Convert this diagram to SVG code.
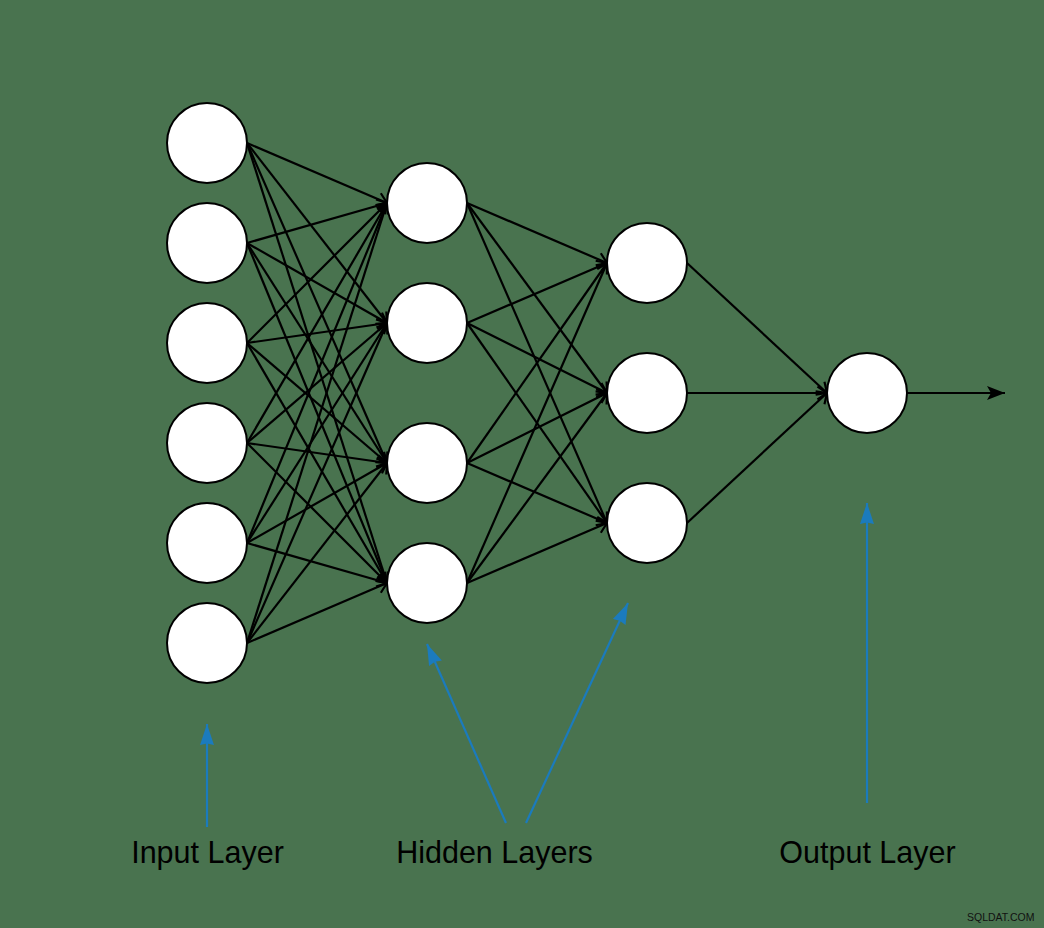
<svg xmlns="http://www.w3.org/2000/svg" width="1044" height="928" viewBox="0 0 1044 928">
<style>
.node{fill:#fff;stroke:#000;stroke-width:2}
.edge{stroke:#000;stroke-width:2.2;fill:none;marker-end:url(#open)}
.out{stroke:#000;stroke-width:2.2;fill:none;marker-end:url(#classic)}
.pointer{stroke:#1b7bbd;stroke-width:2.2;fill:none;marker-end:url(#blue)}
.label{font-family:"Liberation Sans",Arial,sans-serif;font-size:30.5px;fill:#000;text-anchor:middle}
.wm{font-family:"Liberation Sans",Arial,sans-serif;font-size:10.5px;fill:#111}
</style>
<defs>
<marker id="open" markerUnits="userSpaceOnUse" markerWidth="14" markerHeight="16" refX="11" refY="8" orient="auto">
<path d="M1.5,1.5 L11,8 L1.5,14.5" fill="none" stroke="#000" stroke-width="2.2"/>
</marker>
<marker id="classic" markerUnits="userSpaceOnUse" markerWidth="19" markerHeight="15" refX="18" refY="7.5" orient="auto">
<path d="M0,0.5 L18,7.5 L0,14.5 L4,7.5 Z" fill="#000"/>
</marker>
<marker id="blue" markerUnits="userSpaceOnUse" markerWidth="22" markerHeight="16" refX="21" refY="8" orient="auto">
<path d="M0,1 L21,8 L0,15 L1.5,8 Z" fill="#1b7bbd"/>
</marker>
</defs>
<rect width="1044" height="928" fill="#49734f"/>
<g id="connectors">
<line class="edge" x1="247" y1="143" x2="387" y2="203"/>
<line class="edge" x1="247" y1="143" x2="387" y2="323"/>
<line class="edge" x1="247" y1="143" x2="387" y2="463"/>
<line class="edge" x1="247" y1="143" x2="387" y2="583"/>
<line class="edge" x1="247" y1="243" x2="387" y2="203"/>
<line class="edge" x1="247" y1="243" x2="387" y2="323"/>
<line class="edge" x1="247" y1="243" x2="387" y2="463"/>
<line class="edge" x1="247" y1="243" x2="387" y2="583"/>
<line class="edge" x1="247" y1="343" x2="387" y2="203"/>
<line class="edge" x1="247" y1="343" x2="387" y2="323"/>
<line class="edge" x1="247" y1="343" x2="387" y2="463"/>
<line class="edge" x1="247" y1="343" x2="387" y2="583"/>
<line class="edge" x1="247" y1="443" x2="387" y2="203"/>
<line class="edge" x1="247" y1="443" x2="387" y2="323"/>
<line class="edge" x1="247" y1="443" x2="387" y2="463"/>
<line class="edge" x1="247" y1="443" x2="387" y2="583"/>
<line class="edge" x1="247" y1="543" x2="387" y2="203"/>
<line class="edge" x1="247" y1="543" x2="387" y2="323"/>
<line class="edge" x1="247" y1="543" x2="387" y2="463"/>
<line class="edge" x1="247" y1="543" x2="387" y2="583"/>
<line class="edge" x1="247" y1="643" x2="387" y2="203"/>
<line class="edge" x1="247" y1="643" x2="387" y2="323"/>
<line class="edge" x1="247" y1="643" x2="387" y2="463"/>
<line class="edge" x1="247" y1="643" x2="387" y2="583"/>
<line class="edge" x1="467" y1="203" x2="607" y2="263"/>
<line class="edge" x1="467" y1="203" x2="607" y2="393"/>
<line class="edge" x1="467" y1="203" x2="607" y2="523"/>
<line class="edge" x1="467" y1="323" x2="607" y2="263"/>
<line class="edge" x1="467" y1="323" x2="607" y2="393"/>
<line class="edge" x1="467" y1="323" x2="607" y2="523"/>
<line class="edge" x1="467" y1="463" x2="607" y2="263"/>
<line class="edge" x1="467" y1="463" x2="607" y2="393"/>
<line class="edge" x1="467" y1="463" x2="607" y2="523"/>
<line class="edge" x1="467" y1="583" x2="607" y2="263"/>
<line class="edge" x1="467" y1="583" x2="607" y2="393"/>
<line class="edge" x1="467" y1="583" x2="607" y2="523"/>
<line class="edge" x1="687" y1="263" x2="827" y2="393"/>
<line class="edge" x1="687" y1="393" x2="827" y2="393"/>
<line class="edge" x1="687" y1="523" x2="827" y2="393"/>
<line class="out" x1="907" y1="393" x2="1005" y2="393"/>
<line class="pointer" x1="207" y1="827" x2="207" y2="724"/>
<line class="pointer" x1="506" y1="823" x2="427" y2="644"/>
<line class="pointer" x1="526" y1="823" x2="628" y2="603"/>
<line class="pointer" x1="867" y1="803" x2="867" y2="503"/>
</g>
<g id="input-1"><circle class="node" cx="207" cy="143" r="40"/></g>
<g id="input-2"><circle class="node" cx="207" cy="243" r="40"/></g>
<g id="input-3"><circle class="node" cx="207" cy="343" r="40"/></g>
<g id="input-4"><circle class="node" cx="207" cy="443" r="40"/></g>
<g id="input-5"><circle class="node" cx="207" cy="543" r="40"/></g>
<g id="input-6"><circle class="node" cx="207" cy="643" r="40"/></g>
<g id="hidden1-1"><circle class="node" cx="427" cy="203" r="40"/></g>
<g id="hidden1-2"><circle class="node" cx="427" cy="323" r="40"/></g>
<g id="hidden1-3"><circle class="node" cx="427" cy="463" r="40"/></g>
<g id="hidden1-4"><circle class="node" cx="427" cy="583" r="40"/></g>
<g id="hidden2-1"><circle class="node" cx="647" cy="263" r="40"/></g>
<g id="hidden2-2"><circle class="node" cx="647" cy="393" r="40"/></g>
<g id="hidden2-3"><circle class="node" cx="647" cy="523" r="40"/></g>
<g id="output-1"><circle class="node" cx="867" cy="393" r="40"/></g>
<g id="label-input"><text class="label" x="207.5" y="863">Input Layer</text></g>
<g id="label-hidden"><text class="label" x="494.5" y="863">Hidden Layers</text></g>
<g id="label-output"><text class="label" x="867.5" y="863">Output Layer</text></g>
<text class="wm" x="967" y="921">SQLDAT.COM</text>
</svg>
